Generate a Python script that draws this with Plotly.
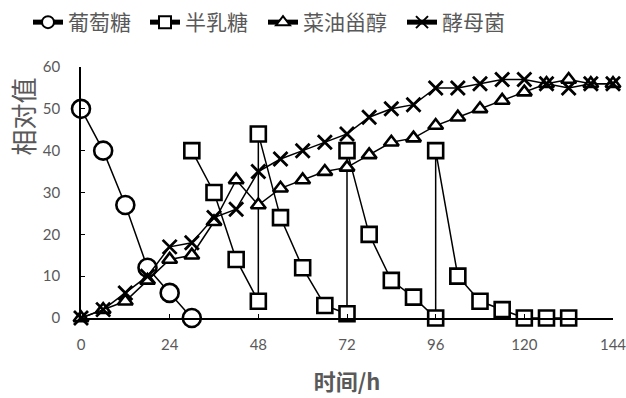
import plotly.graph_objects as go

# ---- data ----
glucose_t = [0, 6, 12, 18, 24, 30]
glucose = [50, 40, 27, 12, 6, 0]

galactose_t = [30, 36, 42, 48, 48, 54, 60, 66, 72, 72, 78, 84, 90, 96, 96, 102, 108, 114, 120, 126, 132]
galactose = [40, 30, 14, 4, 44, 24, 12, 3, 1, 40, 20, 9, 5, 0, 40, 10, 4, 2, 0, 0, 0]

time_t = [0, 6, 12, 18, 24, 30, 36, 42, 48, 54, 60, 66, 72, 78, 84, 90, 96, 102, 108, 114, 120, 126, 132, 138, 144]
sterol = [0, 2, 4, 9, 14, 15, 23, 33, 27, 31, 33, 35, 36, 39, 42, 43, 46, 48, 50, 52, 54, 56, 57, 56, 56]
yeast = [0, 2, 6, 10, 17, 18, 24, 26, 35, 38, 40, 42, 44, 48, 50, 51, 55, 55, 56, 57, 57, 56, 55, 56, 56]

names = ["葡萄糖", "半乳糖", "菜油甾醇", "酵母菌"]
x_ticks = [0, 24, 48, 72, 96, 120, 144]
y_ticks = [0, 10, 20, 30, 40, 50, 60]

GRAY = "#595959"
CJK = "Noto Sans CJK SC"
NUM = "Lato"

fig = go.Figure()
line = dict(color="black", width=1.5)

fig.add_trace(go.Scatter(
    x=glucose_t, y=glucose, name=names[0], mode="lines+markers", line=line, legend="legend",
    marker=dict(symbol="circle", size=18, color="white", line=dict(color="black", width=2.6)),
    cliponaxis=False))
fig.add_trace(go.Scatter(
    x=galactose_t, y=galactose, name=names[1], mode="lines+markers", line=line, legend="legend2",
    marker=dict(symbol="square", size=15, color="white", line=dict(color="black", width=2.6)),
    cliponaxis=False))
fig.add_trace(go.Scatter(
    x=time_t, y=sterol, name=names[2], mode="lines+markers", line=line, legend="legend3",
    marker=dict(symbol="triangle-up", size=13, color="white", line=dict(color="black", width=2.6)),
    cliponaxis=False))
fig.add_trace(go.Scatter(
    x=time_t, y=yeast, name=names[3], mode="lines+markers", line=line, legend="legend4",
    marker=dict(symbol="x-thin", size=14, color="black", line=dict(color="black", width=2.8)),
    cliponaxis=False))

legend_x = [28, 145, 263, 402]
def leg(px):
    return dict(orientation="h", x=px / 626, xanchor="left", xref="container",
                y=0.995, yanchor="top", yref="container",
                font=dict(family=CJK, size=21, color=GRAY),
                itemsizing="constant", itemwidth=30, bgcolor="rgba(0,0,0,0)")

fig.update_layout(
    width=626, height=398,
    margin=dict(l=81, r=13, t=67, b=80, autoexpand=False),
    paper_bgcolor="white", plot_bgcolor="white",
    showlegend=True,
    legend=leg(legend_x[0]), legend2=leg(legend_x[1]),
    legend3=leg(legend_x[2]), legend4=leg(legend_x[3]),
    xaxis=dict(range=[0, 144], tickvals=x_ticks, showgrid=False, zeroline=False,
               showline=True, linecolor="black", linewidth=1.5,
               ticks="inside", ticklen=4, tickcolor="black", tickwidth=1.2,
               ticklabelstandoff=12, ticklabeloverflow="allow", automargin=False,
               tickfont=dict(family=NUM, size=15, color=GRAY),
               title=dict(text="<b>时间/h</b>", font=dict(family=CJK, size=22, color=GRAY), standoff=23)),
    yaxis=dict(range=[0, 60], tickvals=y_ticks, showgrid=False, zeroline=False,
               showline=True, linecolor="black", linewidth=1.5,
               ticks="inside", ticklen=4, tickcolor="black", tickwidth=1.2,
               ticklabelstandoff=16, automargin=False,
               tickfont=dict(family=NUM, size=15, color=GRAY)),
    annotations=[dict(text="相对值", textangle=-90, xref="paper", yref="paper",
                      x=-0.11, y=0.805, xanchor="center", yanchor="middle", showarrow=False,
                      font=dict(family=CJK, size=26, color=GRAY))],
)

fig.write_html("out.html")
